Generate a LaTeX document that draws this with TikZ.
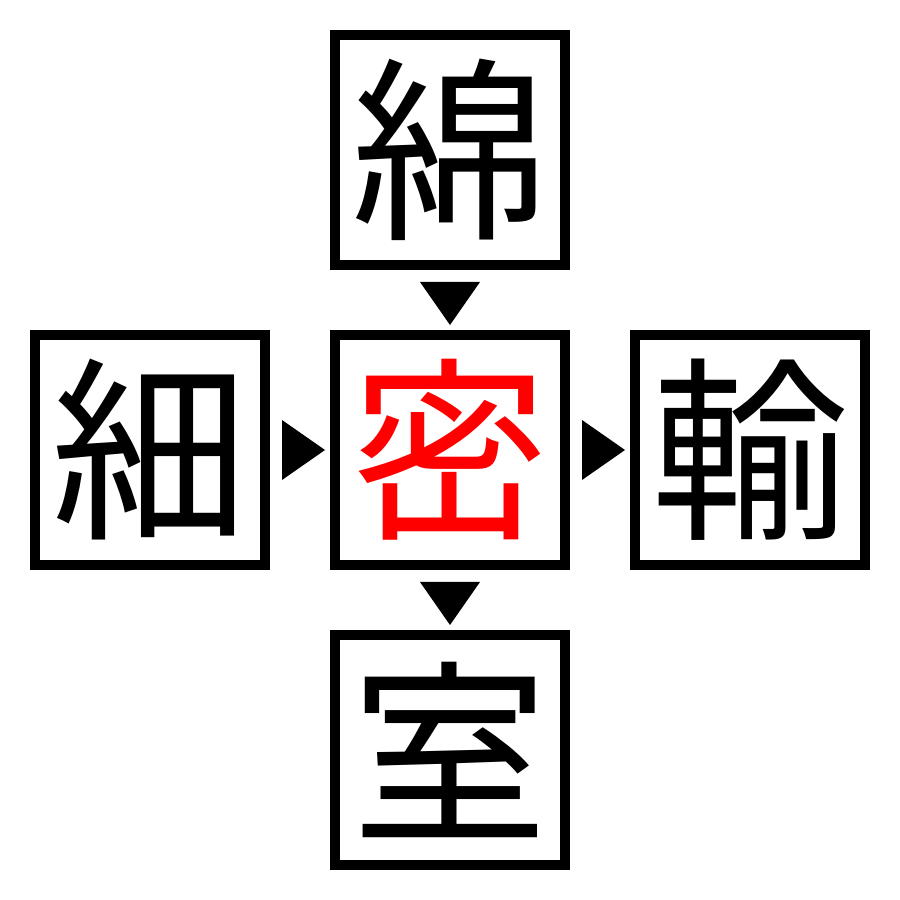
\documentclass[tikz,border=0pt]{standalone}
\usepackage{fontspec}
\newfontfamily\cjk{Noto Sans CJK JP}
\usetikzlibrary{positioning,calc}

\tikzset{
	kanji/.style={draw, line width=1mm, minimum size=2.3cm, inner sep=0pt,
		font=\cjk\fontsize{56}{56}\selectfont}
}

\begin{document}
\begin{tikzpicture}[node distance=3cm, on grid]
	\useasboundingbox (0,0) rectangle (9,9);
	\node[kanji] (c) at (4.5,4.5) {\textcolor{red}{密}};
	\node[kanji, above=of c] (t) {綿};
	\node[kanji, left=of c] (l) {細};
	\node[kanji, right=of c] (r) {輸};
	\node[kanji, below=of c] (b) {室};
	% triangles
	\fill ($(l.east)+(0.12,0.3)$) -- ($(l.east)+(0.12,-0.3)$) -- ($(c.west)+(-0.05,0)$) -- cycle;
	\fill ($(c.east)+(0.12,0.3)$) -- ($(c.east)+(0.12,-0.3)$) -- ($(r.west)+(-0.05,0)$) -- cycle;
	\fill ($(t.south)+(-0.3,-0.12)$) -- ($(t.south)+(0.3,-0.12)$) -- ($(c.north)+(0,0.05)$) -- cycle;
	\fill ($(c.south)+(-0.3,-0.12)$) -- ($(c.south)+(0.3,-0.12)$) -- ($(b.north)+(0,0.05)$) -- cycle;
\end{tikzpicture}
\end{document}
